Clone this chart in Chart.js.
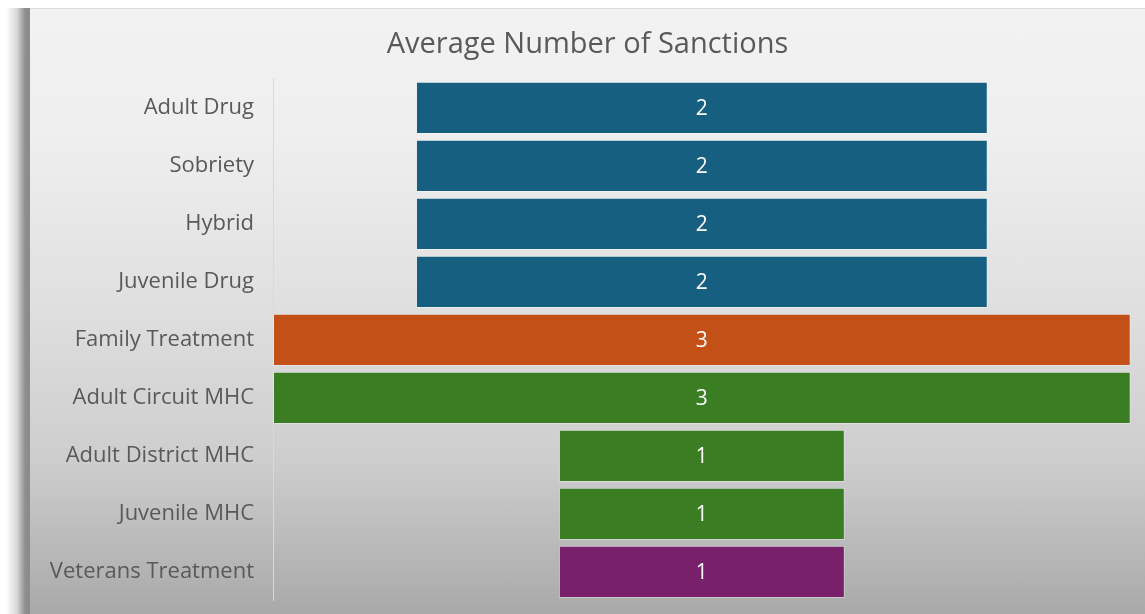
<!DOCTYPE html>
<html>
<head>
<meta charset="utf-8">
<script src="https://cdn.jsdelivr.net/npm/chart.js@4/dist/chart.umd.min.js"></script>
<style>
  html, body { margin: 0; padding: 0; background: #fff; }
  #frame {
    position: absolute; left: 30px; top: 8px; width: 1115px; height: 606px;
    background: linear-gradient(to bottom, #f2f2f2 0%, #efefef 20%, #e2e2e2 45%, #cdcdcd 75%, #a9a9a9 100%);
    border-top: 1px solid #dcdcdc;
    box-sizing: border-box;
  }
  #shade {
    position: absolute; left: 6px; top: 8px; width: 24px; height: 606px;
    background: linear-gradient(to right, #ffffff 0%, #d8d8d8 45%, #8e8e8e 80%, #8a8a8a 100%);
  }
  #wrap { position: absolute; left: 0; top: 0; width: 1115px; height: 624px; }
</style>
</head>
<body>
<div id="shade"></div>
<div id="frame"><div id="wrap"><canvas id="chart"></canvas></div></div>
<script>
const categories = [
  'Adult Drug', 'Sobriety', 'Hybrid', 'Juvenile Drug', 'Family Treatment',
  'Adult Circuit MHC', 'Adult District MHC', 'Juvenile MHC', 'Veterans Treatment'
];
const sanctions = [2, 2, 2, 2, 3, 3, 1, 1, 1];
const barColors = [
  '#175f80', '#175f80', '#175f80', '#175f80', '#c35016',
  '#3b7d23', '#3b7d23', '#3b7d23', '#782069'
];

// funnel layout: each bar is centred on zero
const spans = sanctions.map(v => [-v / 2, v / 2]);

const valueLabels = {
  id: 'valueLabels',
  afterDatasetsDraw(chart) {
    const ctx = chart.ctx;
    const meta = chart.getDatasetMeta(0);
    ctx.save();
    ctx.fillStyle = '#ffffff';
    ctx.font = '21px "Open Sans", sans-serif';
    ctx.textAlign = 'center';
    ctx.textBaseline = 'middle';
    meta.data.forEach((bar, i) => {
      ctx.fillText(String(sanctions[i]), (bar.x + bar.base) / 2, bar.y + 1);
    });
    ctx.restore();
  }
};

new Chart(document.getElementById('chart'), {
  type: 'bar',
  data: {
    labels: categories,
    datasets: [{
      data: spans,
      backgroundColor: barColors,
      borderColor: 'rgba(255,255,255,0.35)',
      borderWidth: 1,
      borderSkipped: false,
      categoryPercentage: 1,
      barPercentage: 0.9
    }]
  },
  options: {
    indexAxis: 'y',
    responsive: true,
    maintainAspectRatio: false,
    animation: false,
    layout: { padding: { left: 0, right: 0, top: 0, bottom: 0 } },
    plugins: {
      legend: { display: false },
      tooltip: { enabled: false },
      title: {
        display: true,
        text: 'Average Number of Sanctions',
        color: '#595959',
        font: { family: '"Open Sans", sans-serif', size: 29, weight: 'normal' },
        padding: { top: 18, bottom: 17 }
      }
    },
    scales: {
      x: { display: false, min: -1.5, max: 1.55 },
      y: {
        grid: { display: false, drawTicks: false },
        border: { display: true, color: '#d9d9d9', width: 1 },
        ticks: {
          color: '#595959',
          padding: 19,
          font: { family: '"Open Sans", sans-serif', size: 22 }
        },
        afterFit(scale) { scale.width = 243; }
      }
    }
  },
  plugins: [valueLabels]
});
</script>
</body>
</html>
